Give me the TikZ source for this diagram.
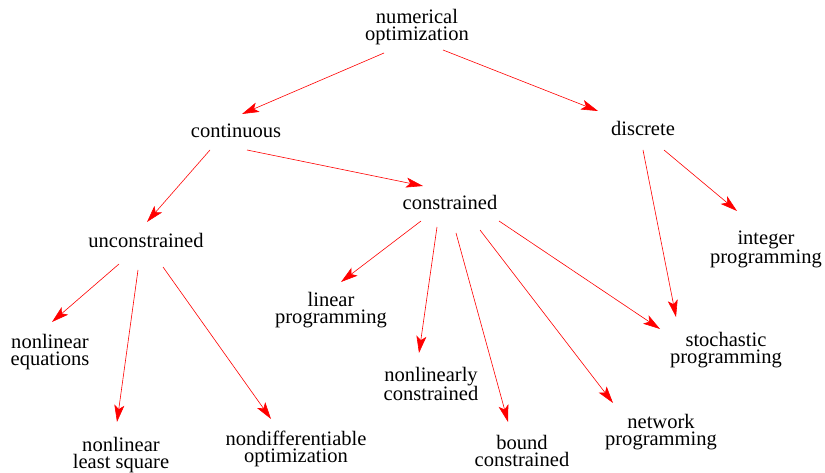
\documentclass[tikz,border=0pt]{standalone}
\usepackage{fontspec}
\setmainfont{Liberation Serif}
\usepackage{tikz}
\usetikzlibrary{arrows.meta, calc}

\begin{document}
\begin{tikzpicture}[x=1bp,y=-1bp,
        topic/.style={align=center,inner sep=0pt,font=\fontsize{20.6}{17.5}\selectfont},
        arr/.style={draw=red,line width=0.6bp,-{Stealth[length=17bp,width=10bp,inset=4bp,red]}}]
        \useasboundingbox (0,0) rectangle (825,473);
        % tree of topics
        \node[topic] (num) at (417,27) {numerical\\optimization};
        \node[topic] (cont) at (236,131) {continuous};
        \node[topic] (disc) at (643,128) {discrete};
        \node[topic] (uncon) at (146,240) {unconstrained};
        \node[topic] (con) at (450,202) {constrained};
        \node[topic] (int) at (766,249) {integer\\programming};
        \node[topic] (lin) at (331,310) {linear\\programming};
        \node[topic] (eq) at (50,352) {nonlinear\\equations};
        \node[topic] (stoch) at (726,350) {stochastic\\programming};
        \node[topic] (nlc) at (431,384) {nonlinearly\\constrained};
        \node[topic] (net) at (661,432) {network\\programming};
        \node[topic] (lsq) at (121,455) {nonlinear\\least square};
        \node[topic] (ndiff) at (296,449) {nondifferentiable\\optimization};
        \node[topic] (bound) at (522,451) {bound\\constrained};
        % arrows
        \draw[arr] ($(num)+(-33,26)$) -- ($(cont)+(6,-17)$);
        \draw[arr] ($(num)+(26,23)$) -- ($(disc)+(-45,-17)$);
        \draw[arr] ($(cont)+(-26,19)$) -- ($(uncon)+(1,-18)$);
        \draw[arr] ($(cont)+(11,19)$) -- ($(con)+(-27,-16)$);
        \draw[arr] ($(disc)+(21,22)$) -- ($(int)+(-29,-38)$);
        \draw[arr] ($(disc)+(0,22)$) -- ($(stoch)+(-50,-33)$);
        \draw[arr] ($(uncon)+(-27,24)$) -- ($(eq)+(2,-30)$);
        \draw[arr] ($(uncon)+(-8,30)$) -- ($(lsq)+(-4,-33)$);
        \draw[arr] ($(uncon)+(17,27)$) -- ($(ndiff)+(-25,-30)$);
        \draw[arr] ($(con)+(-29,19)$) -- ($(lin)+(10,-28)$);
        \draw[arr] ($(con)+(-13,25)$) -- ($(nlc)+(-12,-31)$);
        \draw[arr] ($(con)+(6,31)$) -- ($(bound)+(-14,-29)$);
        \draw[arr] ($(con)+(30,28)$) -- ($(net)+(-48,-29)$);
        \draw[arr] ($(con)+(49,19)$) -- ($(stoch)+(-66,-21)$);
\end{tikzpicture}
\end{document}
